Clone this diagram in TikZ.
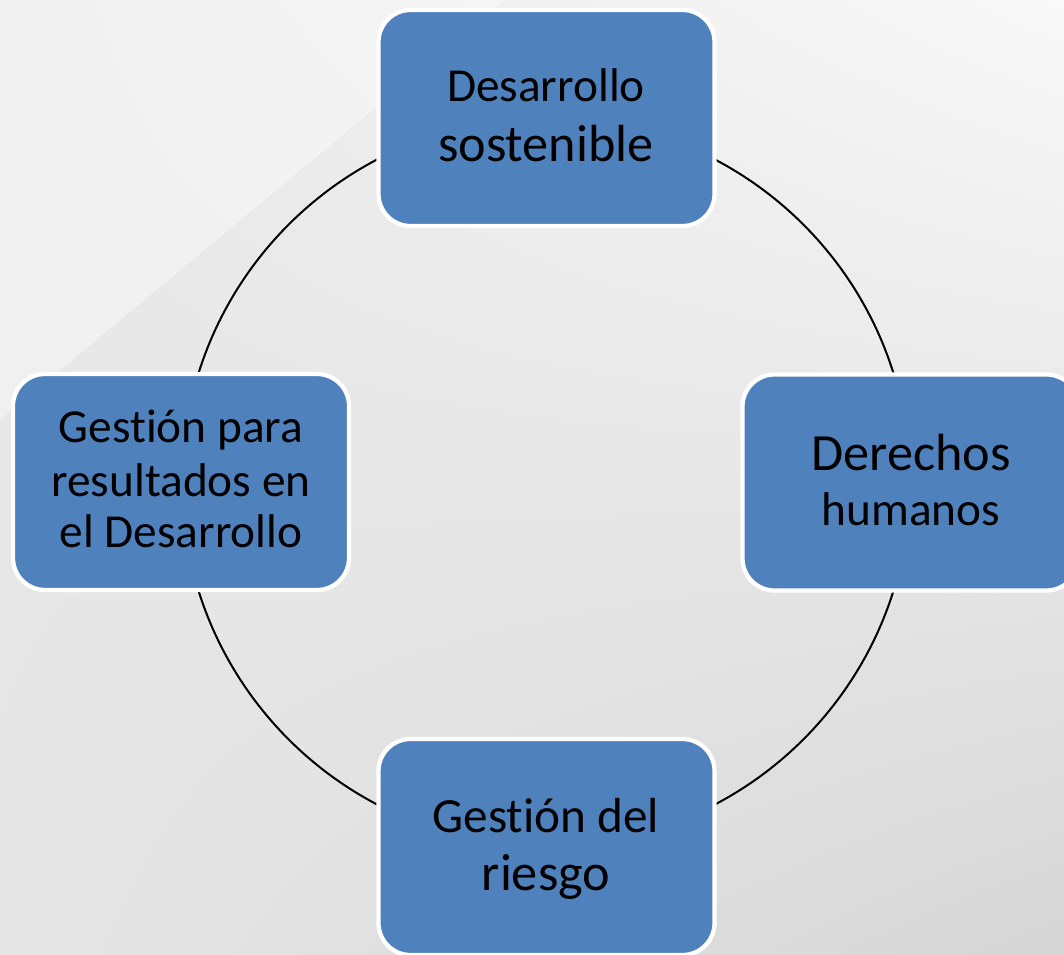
\documentclass[tikz,border=0pt]{standalone}
\usepackage{fontspec}
\setmainfont{Carlito}[Ligatures={NoCommon,NoRequired,NoContextual,NoRare}]
\usetikzlibrary{shadings}
\definecolor{boxblue}{HTML}{4F81BD}
\definecolor{bgA}{HTML}{E8E8E8}
\definecolor{bgB}{HTML}{F9F9F9}
\definecolor{bgC}{HTML}{E6E6E6}
\definecolor{bgD}{HTML}{D6D6D6}
\tikzset{
  cyclebox/.style={draw=white, line width=3.2pt, fill=boxblue, rounded corners=24pt,
    minimum width=252pt, minimum height=162pt, inner sep=0pt},
  lbl/.style={anchor=base, inner sep=0pt, text=black},
  ring/.style={draw=black, line width=1.5pt}
}
\newcommand{\fsA}{\fontsize{35.5}{40}\selectfont}
\newcommand{\fsB}{\fontsize{39.2}{44}\selectfont}
\newcommand{\fsC}{\fontsize{36.9}{42}\selectfont}
\begin{document}
\begin{tikzpicture}[x=0.75pt,y=-0.75pt]
\useasboundingbox (0,0) rectangle (1064,955);
% background
\shade[upper left=bgA, upper right=bgB, lower left=bgC, lower right=bgD] (0,0) rectangle (1064,955);
\fill[white, opacity=0.4] (0,0) -- (505,0) -- (0,420) -- cycle;
% ring
\coordinate (ctr) at (546,482);
\draw[ring] (ctr) circle [radius=273pt];
% boxes
\node[cyclebox] (top) at (546.5,118) {};
\node[cyclebox] (left) at (181,482) {};
\node[cyclebox] (right) at (910.5,482.5) {};
\node[cyclebox] (bottom) at (546.5,847) {};
% labels
\node[lbl] (t1) at (546,102) {\fsA Desarrollo};
\node[lbl] (t2) at (546,162) {\fsB sostenible};
\node[lbl] (l1) at (181,443) {\fsA Gest\kern0pt ión para};
\node[lbl] (l2) at (181,497) {\fsA resultados en};
\node[lbl] (l3) at (181,547) {\fsA el Desarrollo};
\node[lbl] (r1) at (911,470) {\fsB Derechos};
\node[lbl] (r2) at (911,525) {\fsA humanos};
\node[lbl] (b1) at (546,832) {\fsC Gest\kern0pt ión del};
\node[lbl] (b2) at (546,890) {\fsB riesgo};
\end{tikzpicture}
\end{document}
